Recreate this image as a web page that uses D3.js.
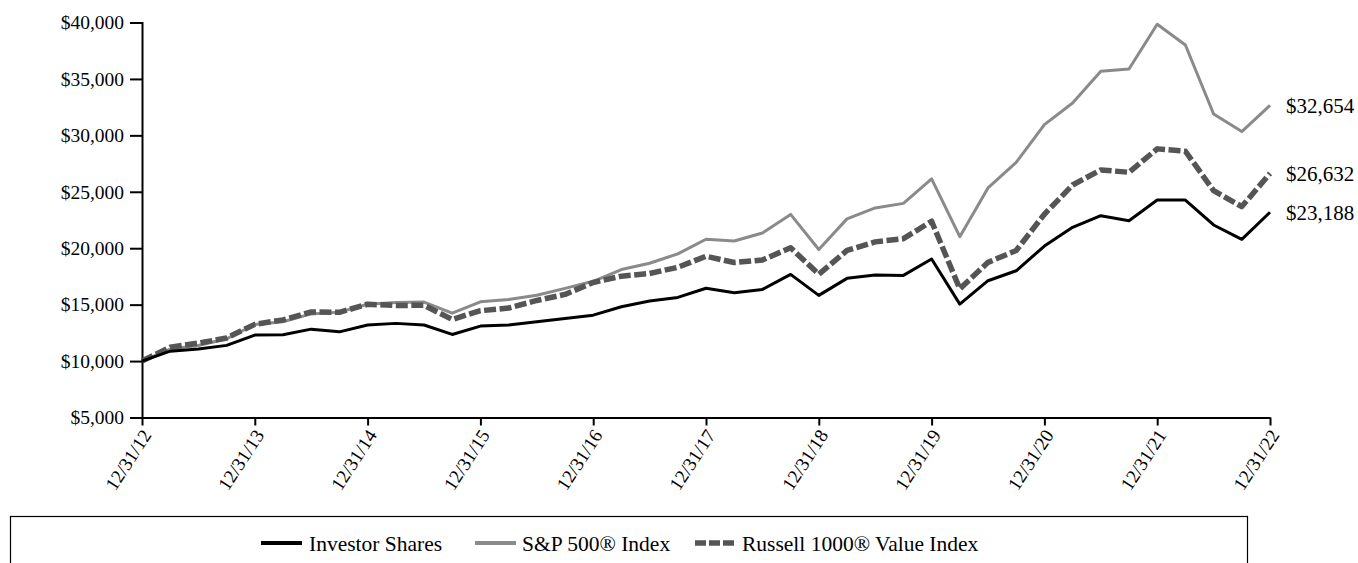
<!DOCTYPE html>
<html>
<head>
<meta charset="utf-8">
<script src="https://cdn.jsdelivr.net/npm/d3@7"></script>
<style>
  html, body { margin: 0; padding: 0; background: #fff; }
  svg { display: block; }
  svg text { font-family: "Liberation Serif", "DejaVu Serif", "Times New Roman", serif !important; fill: #000; }
</style>
</head>
<body>
<svg id="chart" width="1358" height="563"></svg>
<script>
// ---- Data ----
const quarters = 41; // 12/31/12 .. 12/31/22 quarterly
const yearLabels = ["12/31/12","12/31/13","12/31/14","12/31/15","12/31/16","12/31/17","12/31/18","12/31/19","12/31/20","12/31/21","12/31/22"];
const yTicks = [5000,10000,15000,20000,25000,30000,35000,40000];

const investorShares = [10000,10880,11060,11390,12300,12330,12830,12590,13190,13340,13200,
  12360,13100,13190,13480,13780,14070,14810,15320,15640,16450,
  16050,16350,17680,15820,17330,17620,17590,19040,15050,17120,
  18000,20190,21850,22880,22440,24270,24270,22060,20790,23188];
const sp500 = [10000,11061,11382,11979,13239,13480,14181,14337,15039,15182,15225,
  14245,15248,15453,15833,16443,17071,18107,18667,19503,20798,
  20640,21348,22994,19885,22599,23571,23972,26146,21021,25339,
  27602,30956,32866,35676,35883,39841,38008,31889,30333,32654];
const russell1000Value = [10000,11231,11590,12047,13253,13653,14350,14322,15035,14927,14943,
  13688,14460,14697,15370,15905,16967,17522,17757,18309,19285,
  18739,18960,20041,17692,19802,20563,20843,22388,16403,18747,
  19795,23012,25603,26937,26727,28803,28590,25099,23688,26632];
const seriesNames = ["Investor Shares","S&P 500® Index","Russell 1000® Value Index"];
const endLabels = ["$23,188","$32,654","$26,632"];

// ---- Layout ----
const svg = d3.select("#chart");
const plotLeft = 142, plotRight = 1270, plotTop = 22.5, plotBottom = 417.5;

const x = d3.scaleLinear().domain([0, quarters - 1]).range([plotLeft, plotRight]);
const y = d3.scaleLinear().domain([5000, 40000]).range([plotBottom, plotTop]);

const fmt = v => "$" + d3.format(",")(v);

// Y axis
const yAxis = svg.append("g").attr("transform", `translate(${plotLeft},0)`)
  .call(d3.axisLeft(y).tickValues(yTicks).tickFormat(fmt).tickSize(12).tickPadding(6));
yAxis.select(".domain").attr("stroke", "#000").attr("stroke-width", 2);
yAxis.selectAll(".tick line").attr("stroke", "#000").attr("stroke-width", 2);
yAxis.selectAll(".tick text").attr("font-size", 19.5);

// X axis
const xTickVals = yearLabels.map((d, i) => i * 4);
const xAxis = svg.append("g").attr("transform", `translate(0,${plotBottom})`)
  .call(d3.axisBottom(x).tickValues(xTickVals).tickFormat((d, i) => yearLabels[i]).tickSize(8).tickSizeOuter(0));
xAxis.select(".domain").attr("stroke", "#000").attr("stroke-width", 2);
xAxis.selectAll(".tick line").attr("stroke", "#000").attr("stroke-width", 2);
xAxis.selectAll(".tick text")
  .attr("font-size", 19)
  .attr("text-anchor", "end")
  .attr("dy", "0.35em")
  .attr("transform", "translate(4,14) rotate(-57)")
  .attr("y", 0).attr("x", 0);

// Lines
const line = d3.line().x((d, i) => x(i)).y(d => y(d));
const styles = [
  { data: investorShares, color: "#000000", width: 3, dash: null },
  { data: sp500, color: "#8a8a8a", width: 3, dash: null },
  { data: russell1000Value, color: "#555555", width: 5.5, dash: "12,3.5" }
];
// draw order: S&P, Russell, Investor
[1, 2, 0].forEach(k => {
  const s = styles[k];
  svg.append("path").datum(s.data)
    .attr("d", line)
    .attr("fill", "none")
    .attr("stroke", s.color)
    .attr("stroke-width", s.width)
    .attr("stroke-linejoin", "round")
    .attr("stroke-dasharray", s.dash);
});

// End labels
const endVals = [investorShares[quarters-1], sp500[quarters-1], russell1000Value[quarters-1]];
endLabels.forEach((t, i) => {
  svg.append("text")
    .attr("x", plotRight + 16)
    .attr("y", y(endVals[i]))
    .attr("dy", "0.35em")
    .attr("font-size", 21)
    .text(t);
});

// Legend box
svg.append("rect")
  .attr("x", 10.5).attr("y", 516.5).attr("width", 1237).attr("height", 60)
  .attr("fill", "none").attr("stroke", "#000").attr("stroke-width", 1.2);

const legendItems = [
  { name: seriesNames[0], s: styles[0], x0: 261, tx: 309 },
  { name: seriesNames[1], s: styles[1], x0: 475, tx: 522 },
  { name: seriesNames[2], s: styles[2], x0: 695, tx: 742 }
];
const ly = 543;
legendItems.forEach(it => {
  svg.append("line")
    .attr("x1", it.x0).attr("x2", it.x0 + 41)
    .attr("y1", ly).attr("y2", ly)
    .attr("stroke", it.s.color)
    .attr("stroke-width", it.s.width === 3 ? 4 : 5.5)
    .attr("stroke-dasharray", it.s.dash ? "11,3" : null);
  svg.append("text")
    .attr("x", it.tx).attr("y", ly).attr("dy", "0.35em")
    .attr("font-size", 21.5)
    .text(it.name);
});
</script>
</body>
</html>
